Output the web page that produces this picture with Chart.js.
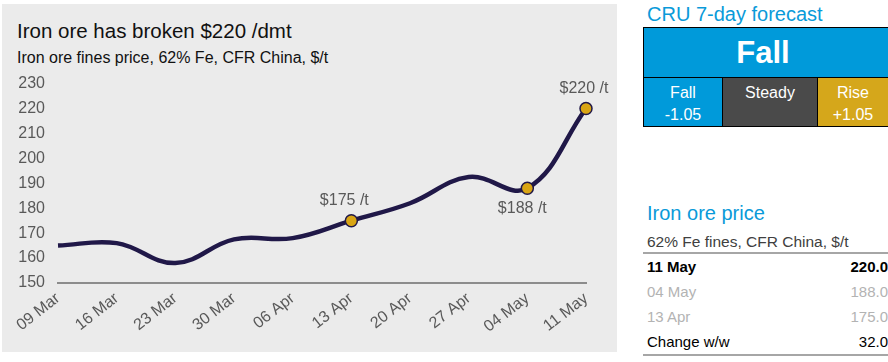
<!DOCTYPE html>
<html>
<head>
<meta charset="utf-8">
<script src="https://cdn.jsdelivr.net/npm/chart.js@4.4.1/dist/chart.umd.min.js"></script>
<style>
  html, body { margin: 0; padding: 0; background: #fff; }
  body { width: 888px; height: 362px; position: relative; overflow: hidden;
         font-family: "Liberation Sans", Arial, sans-serif; }
  .panel { position: absolute; left: 2px; top: 4px; width: 615px; height: 348px; background: #ebebeb; }
  .title { position: absolute; left: 15px; top: 15px; font-size: 20.5px; color: #111; white-space: nowrap; }
  .subtitle { position: absolute; left: 15px; top: 45px; font-size: 16px; color: #111; white-space: nowrap; }
  .chart-wrap { position: absolute; left: 0; top: 57px; width: 615px; height: 291px; }
  .blue-h { position: absolute; left: 647px; color: #0a9ad9; font-size: 20px; white-space: nowrap; }
  .fc { position: absolute; left: 643px; top: 27px; width: 260px; height: 100px;
        border: 1.5px solid #000; box-sizing: border-box; }
  .fc div { position: absolute; box-sizing: border-box; color: #fff; text-align: center; }
  .fc .big { left: 0; top: 0; width: 100%; height: 50px; background: #009ada;
             font-weight: bold; font-size: 31px; line-height: 50px; border-bottom: 1.5px solid #000;
             padding-right: 20px; }
  .fc .cell { top: 50px; height: 48px; font-size: 16px; line-height: 22px; padding-top: 4px; }
  .tbl { position: absolute; left: 643px; top: 232px; width: 245px; font-size: 15px; }
  .tbl .row { height: 25px; line-height: 25px; display: flex; justify-content: space-between; padding-left: 4px; }
  .tbl .sub { color: #404040; border-bottom: 2px solid #a6a6a6; height: 20px; line-height: 20px; font-size: 15.5px; }
</style>
</head>
<body>
<div class="panel">
  <div class="title">Iron ore has broken $220 /dmt</div>
  <div class="subtitle">Iron ore fines price, 62% Fe, CFR China, $/t</div>
  <div class="chart-wrap"><canvas id="c" width="615" height="291"></canvas></div>
</div>

<div class="blue-h" style="top:3px;">CRU 7-day forecast</div>
<div class="fc">
  <div class="big">Fall</div>
  <div class="cell" style="left:0;width:79px;background:#009ada;border-right:1.5px solid #000;">Fall<br>-1.05</div>
  <div class="cell" style="left:79px;width:95px;background:#4a4a4a;border-right:1.5px solid #000;">Steady</div>
  <div class="cell" style="left:174px;width:86px;background:#d5a71b;padding-right:16px;">Rise<br>+1.05</div>
</div>

<div class="blue-h" style="top:202px;">Iron ore price</div>
<div class="tbl">
  <div class="row sub"><span>62% Fe fines, CFR China, $/t</span></div>
  <div class="row" style="font-weight:bold;color:#000;"><span>11 May</span><span>220.0</span></div>
  <div class="row" style="color:#b3b3b3;"><span>04 May</span><span>188.0</span></div>
  <div class="row" style="color:#b3b3b3;"><span>13 Apr</span><span>175.0</span></div>
  <div class="row" style="color:#000;border-bottom:2px solid #a6a6a6;"><span>Change w/w</span><span>32.0</span></div>
</div>

<script>
const weeks = ['09 Mar', '16 Mar', '23 Mar', '30 Mar', '06 Apr', '13 Apr', '20 Apr', '27 Apr', '04 May', '11 May'];
const prices = [165, 166, 158, 167.5, 168, 175, 182, 192.5, 188, 220];
const callouts = ['', '', '', '', '', '$175 /t', '', '', '$188 /t', '$220 /t'];
const calloutBelow = [false, false, false, false, false, false, false, false, true, false];
const yTicks = [150, 160, 170, 180, 190, 200, 210, 220, 230];

const tickGrey = '#595959';
const fontFamily = '"Liberation Sans", Arial, sans-serif';

// price labels next to the highlighted points
const calloutPlugin = {
  id: 'callouts',
  afterDatasetsDraw(chart) {
    const ctx = chart.ctx;
    const pts = chart.getDatasetMeta(0).data;
    ctx.save();
    ctx.font = '16px ' + fontFamily;
    ctx.fillStyle = tickGrey;
    ctx.textAlign = 'center';
    callouts.forEach((txt, i) => {
      if (!txt) return;
      const p = pts[i];
      if (calloutBelow[i]) {
        ctx.textBaseline = 'top';
        ctx.fillText(txt, p.x - 5, p.y + 12);
      } else {
        ctx.textBaseline = 'bottom';
        ctx.fillText(txt, p.x - (i === pts.length - 1 ? 2 : 7), p.y - 12);
      }
    });
    ctx.restore();
  }
};

new Chart(document.getElementById('c'), {
  type: 'line',
  data: {
    labels: weeks,
    datasets: [{
      data: prices,
      borderColor: '#201848',
      borderWidth: 4.5,
      tension: 0.4,
      pointRadius: ctx => callouts[ctx.dataIndex] ? 6 : 0,
      pointBackgroundColor: '#d9a514',
      pointBorderColor: '#201848',
      pointBorderWidth: 1.5
    }]
  },
  options: {
    responsive: false,
    animation: false,
    layout: { padding: { left: 0, right: 31, top: 1, bottom: 0 } },
    plugins: { legend: { display: false }, tooltip: { enabled: false } },
    scales: {
      x: {
        grid: { display: false, drawTicks: false },
        border: { color: '#8c8c8c', width: 2 },
        ticks: {
          color: tickGrey, font: { size: 16, family: fontFamily },
          autoSkip: false, minRotation: 38, maxRotation: 38, padding: 6
        },
        afterFit(s) { s.height = 69; }
      },
      y: {
        min: yTicks[0], max: yTicks[yTicks.length - 1],
        grid: { display: false, drawTicks: false },
        border: { display: false },
        afterBuildTicks(s) { s.ticks = yTicks.map(v => ({ value: v })); },
        ticks: {
          color: tickGrey, font: { size: 16, family: fontFamily },
          padding: 13
        },
        afterFit(s) { s.width = 56; }
      }
    }
  },
  plugins: [calloutPlugin]
});
</script>
</body>
</html>
